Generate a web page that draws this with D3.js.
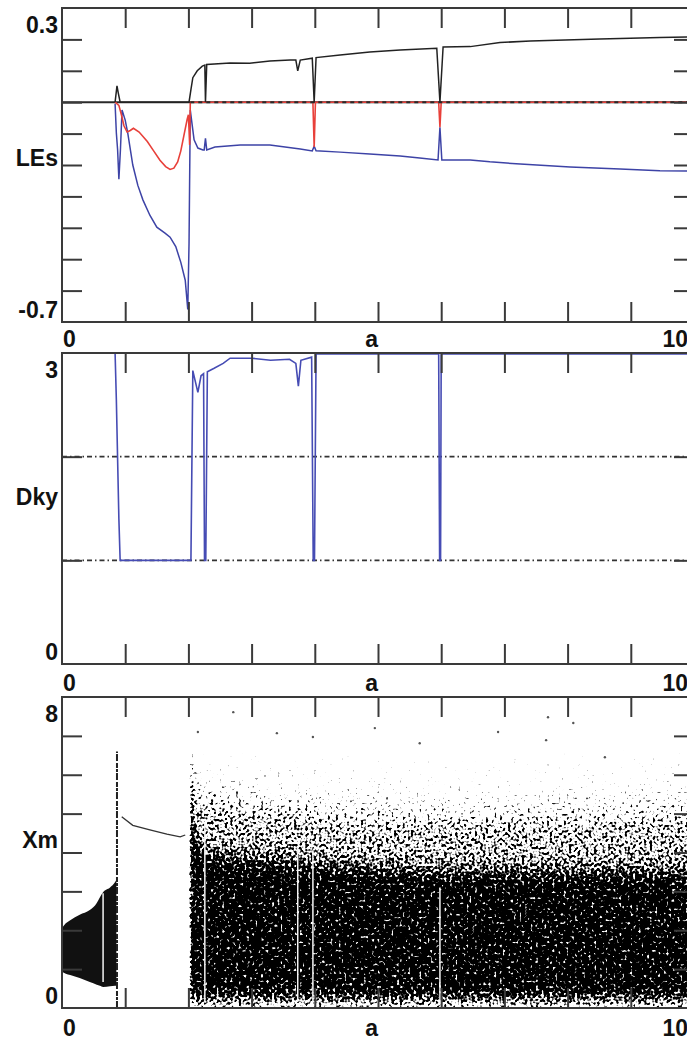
<!DOCTYPE html>
<html>
<head>
<meta charset="UTF-8">
<style>
body{
	margin: 0;
	background: #fff;
}
svg{
	display: block;
	font-family: "Liberation Sans", Arial, Helvetica, sans-serif;
}
.lbl{
	font-size: 23px;
	font-weight: bold;
	fill: #111;
}
.frame{
	fill: none;
	stroke: #3a3a3a;
	stroke-width: 2;
}
.axis path{
	display: none;
}
.axis line{
	stroke: #3a3a3a;
	stroke-width: 2;
}
</style>
<script src="https://cdn.jsdelivr.net/npm/d3@7"></script>
</head>
<body>
<script>
// ---- panel 1: Lyapunov exponents vs a ----
var le1A = [0.84, 0.87, 0.89, 0.92, 2.01, 2.04, 2.07, 2.14, 2.22, 2.26, 2.27, 2.29, 2.66, 2.97, 3.29, 3.61, 3.70, 3.73, 3.77, 3.96, 3.99, 4.02, 4.40, 4.87, 5.35, 5.93, 5.98, 6.03, 6.46, 6.93, 7.41, 7.96, 8.51, 8.99, 9.46, 10];
var le1V = [0, 0.052, 0.03, 0, 0, 0.04, 0.078, 0.10, 0.115, 0.118, 0, 0.12, 0.125, 0.124, 0.131, 0.134, 0.134, 0.10, 0.134, 0.14, 0, 0.142, 0.15, 0.16, 0.166, 0.172, 0, 0.176, 0.177, 0.19, 0.195, 0.198, 0.201, 0.204, 0.206, 0.208];

var le2A = [0.84, 0.90, 0.94, 0.98, 1.03, 1.08, 1.13, 1.22, 1.35, 1.45, 1.55, 1.64, 1.71, 1.77, 1.83, 1.88, 1.93, 1.98, 2.0, 2.02, 2.03, 3.97, 3.99, 4.01, 5.96, 5.98, 6.0, 10];
var le2V = [0, -0.01, -0.04, -0.075, -0.095, -0.09, -0.083, -0.095, -0.125, -0.155, -0.185, -0.205, -0.214, -0.21, -0.19, -0.155, -0.105, -0.055, -0.04, -0.136, 0, 0, -0.143, 0, 0, -0.08, 0, 0];

var le3A = [0.84, 0.86, 0.88, 0.90, 0.925, 0.95, 1.0, 1.04, 1.12, 1.20, 1.28, 1.39, 1.50, 1.63, 1.71, 1.80, 1.88, 1.95, 1.99, 2.01, 2.03, 2.06, 2.09, 2.15, 2.23, 2.25, 2.27, 2.29, 2.42, 2.82, 3.29, 3.77, 3.96, 3.99, 4.02, 4.40, 4.87, 5.35, 5.66, 5.95, 5.98, 6.01, 6.46, 6.77, 7.25, 8.04, 8.83, 9.46, 10];
var le3V = [-0.005, -0.098, -0.152, -0.245, -0.15, -0.025, -0.057, -0.098, -0.2, -0.265, -0.311, -0.36, -0.398, -0.417, -0.43, -0.46, -0.51, -0.567, -0.66, -0.45, -0.025, -0.073, -0.12, -0.146, -0.152, -0.152, -0.115, -0.152, -0.143, -0.136, -0.136, -0.149, -0.155, -0.14, -0.155, -0.159, -0.165, -0.171, -0.178, -0.184, -0.08, -0.184, -0.184, -0.19, -0.197, -0.206, -0.213, -0.218, -0.219];

// ---- panel 2: Kaplan-Yorke dimension ----
var dkyA = [0.84, 0.86, 0.90, 0.92, 2.04, 2.07, 2.10, 2.15, 2.20, 2.24, 2.255, 2.275, 2.30, 2.40, 2.55, 2.66, 3.0, 3.3, 3.6, 3.70, 3.74, 3.78, 3.95, 3.975, 3.995, 4.02, 5.96, 5.975, 5.99, 6.0, 10];
var dkyV = [3.0, 2.55, 1.4, 1.0, 1.0, 2.83, 2.75, 2.62, 2.78, 2.80, 1.0, 1.0, 2.82, 2.85, 2.9, 2.95, 2.95, 2.93, 2.94, 2.9, 2.68, 2.93, 2.96, 1.0, 1.0, 2.99, 2.99, 1.0, 1.0, 2.99, 2.99];
var dkyRef = [1, 2];

// ---- panel 3: maxima Xm (bifurcation cloud) ----
var bellA  = [0, 0.06, 0.13, 0.28, 0.44, 0.55, 0.60, 0.65, 0.76, 0.84, 0.86];
var bellLo = [0.93, 0.88, 0.85, 0.77, 0.67, 0.60, 0.57, 0.54, 0.56, 0.57, 0.57];
var bellHi = [2.06, 2.18, 2.26, 2.40, 2.52, 2.70, 2.85, 2.98, 3.10, 3.24, 3.30];
var spikeA = 0.87, spikeLo = 0.0, spikeHi = 6.6;

var p1A = [0.945, 1.12, 1.39, 1.66, 1.87, 1.95];
var p1X = [4.92, 4.70, 4.58, 4.47, 4.40, 4.45];

// chaotic cloud: bottom, top of dark core, top of grey part, start of sparse dots, top of dots
var chA     = [2.03, 2.07, 2.12, 2.2, 2.4, 2.7, 3.0, 3.5, 4.0, 5.0, 6.0, 7.0, 8.0, 9.0, 10.0];
var chLow   = [0.1, 0.1, 0.1, 0.1, 0.1, 0.1, 0.1, 0.1, 0.1, 0.1, 0.1, 0.1, 0.1, 0.1, 0.1];
var chDense = [6.0, 5.0, 4.4, 4.1, 3.95, 3.9, 3.85, 3.8, 3.7, 3.6, 3.5, 3.5, 3.5, 3.5, 3.5];
var chMid   = [6.4, 6.0, 5.6, 5.4, 5.3, 5.2, 5.15, 5.1, 5.0, 4.9, 4.85, 4.85, 4.9, 4.9, 4.95];
var chUp    = [6.6, 6.4, 6.1, 5.9, 5.8, 5.75, 5.7, 5.65, 5.6, 5.5, 5.45, 5.45, 5.5, 5.55, 5.6];
var chTop   = [6.9, 6.9, 6.8, 6.7, 6.65, 6.6, 6.6, 6.5, 6.5, 6.45, 6.4, 6.45, 6.5, 6.55, 6.6];

var outA = [2.15, 3.40, 2.71, 3.97, 5.66, 7.69, 8.09, 6.90, 7.66, 8.59, 4.95];
var outV = [7.10, 7.07, 7.61, 6.97, 6.81, 7.48, 7.33, 7.10, 6.89, 6.45, 7.20];

var winA   = [0.65, 2.26, 3.73, 3.97, 5.98];
var winLo  = [0.67, 0.15, 0.15, 0.15, 0.2];
var winTop = [2.95, 4.75, 4.14, 4.06, 3.1];

// tick values and labels
var xTicks = d3.range(1, 10);
var xLabels = ["0", "a", "10"];
var leTicks = [-0.6, -0.5, -0.4, -0.3, -0.2, -0.1, 0, 0.1, 0.2];
var leLabels = ["0.3", "-0.7"];
var dkyLabels = ["3", "0"];
var xmTicks = [1, 2, 3, 4, 5, 6, 7];
var xmLabels = ["8", "0"];

var width = 687, height = 1043;
var x = d3.scaleLinear().domain([0, 10]).range([62, 694]);

var svg = d3.select("body").append("svg")
	.attr("width", width)
	.attr("height", height);

// speckle texture: blurred density compared with a noise field
var defs = svg.append("defs");
var f = defs.append("filter")
	.attr("id", "speckle")
	.attr("filterUnits", "userSpaceOnUse")
	.attr("x", 62).attr("y", 697).attr("width", 632).attr("height", 311)
	.attr("color-interpolation-filters", "sRGB");
f.append("feGaussianBlur").attr("in", "SourceAlpha").attr("stdDeviation", "1 10").attr("result", "dens");
f.append("feTurbulence").attr("type", "fractalNoise").attr("baseFrequency", 0.36).attr("numOctaves", 1).attr("seed", 4).attr("result", "noise");
f.append("feColorMatrix").attr("in", "noise").attr("type", "matrix")
	.attr("values", "0 0 0 0 0  0 0 0 0 0  0 0 0 0 0  2.0 0 0 0 -0.5").attr("result", "n2");
f.append("feComposite").attr("in", "dens").attr("in2", "n2").attr("operator", "arithmetic")
	.attr("k1", 0).attr("k2", 4).attr("k3", -4).attr("k4", -0.15);

var panels = [
	{name: "LEs", top: 8, bottom: 322, domain: [-0.7, 0.3], ticks: leTicks, labels: leLabels, nameY: 166, xlabY: 347},
	{name: "Dky", top: 353, bottom: 664, domain: [0, 3], ticks: dkyRef, labels: dkyLabels, nameY: 505, xlabY: 691},
	{name: "Xm", top: 697, bottom: 1008, domain: [0, 8], ticks: xmTicks, labels: xmLabels, nameY: 848, xlabY: 1036}
];

panels.forEach(function(p){
	p.y = d3.scaleLinear().domain(p.domain).range([p.bottom, p.top]);
});

function drawFrame(p){
	svg.append("g").attr("class", "axis")
		.attr("transform", "translate(0," + p.bottom + ")")
		.call(d3.axisTop(x).tickValues(xTicks).tickSize(20).tickFormat(""));
	svg.append("g").attr("class", "axis")
		.attr("transform", "translate(0," + p.top + ")")
		.call(d3.axisBottom(x).tickValues(xTicks).tickSize(20).tickFormat(""));
	svg.append("g").attr("class", "axis")
		.attr("transform", "translate(" + x(0) + ",0)")
		.call(d3.axisRight(p.y).tickValues(p.ticks).tickSize(20).tickFormat(""));
	svg.append("g").attr("class", "axis")
		.attr("transform", "translate(" + x(10) + ",0)")
		.call(d3.axisLeft(p.y).tickValues(p.ticks).tickSize(20).tickFormat(""));
	svg.append("rect").attr("class", "frame")
		.attr("x", x(0)).attr("y", p.top)
		.attr("width", x(10) - x(0)).attr("height", p.bottom - p.top);

	svg.append("text").attr("class", "lbl").attr("text-anchor", "end")
		.attr("x", 58).attr("y", p.top + 25).text(p.labels[0]);
	svg.append("text").attr("class", "lbl").attr("text-anchor", "end")
		.attr("x", 58).attr("y", p.bottom - 4).text(p.labels[1]);
	svg.append("text").attr("class", "lbl").attr("text-anchor", "end")
		.attr("x", 58).attr("y", p.nameY).text(p.name);

	svg.append("text").attr("class", "lbl").attr("x", x(0) + 1).attr("y", p.xlabY).text(xLabels[0]);
	svg.append("text").attr("class", "lbl").attr("text-anchor", "middle").attr("x", x(4.9)).attr("y", p.xlabY).text(xLabels[1]);
	svg.append("text").attr("class", "lbl").attr("x", x(9.5)).attr("y", p.xlabY).text(xLabels[2]);
}

function seriesLine(xs, ys, yScale){
	return d3.line()
		.x(function(d, i){ return x(xs[i]); })
		.y(function(d, i){ return yScale(ys[i]); })(xs);
}

// panel 1
var p = panels[0];
svg.append("line")
	.attr("x1", x(0)).attr("x2", x(10))
	.attr("y1", p.y(0)).attr("y2", p.y(0))
	.attr("stroke", "#2a2a2a").attr("stroke-width", 2);
svg.append("path").attr("d", seriesLine(le3A, le3V, p.y))
	.attr("fill", "none").attr("stroke", "#3d43a6").attr("stroke-width", 1.5);
svg.append("path").attr("d", seriesLine(le2A, le2V, p.y))
	.attr("fill", "none").attr("stroke", "#e8403a").attr("stroke-width", 1.6);
svg.append("line")
	.attr("x1", x(2.03)).attr("x2", x(10))
	.attr("y1", p.y(0)).attr("y2", p.y(0))
	.attr("stroke", "#2a2a2a").attr("stroke-width", 2)
	.attr("stroke-dasharray", "4,4");
svg.append("path").attr("d", seriesLine(le1A, le1V, p.y))
	.attr("fill", "none").attr("stroke", "#222").attr("stroke-width", 1.5);
drawFrame(p);

// panel 2
p = panels[1];
svg.selectAll(".dkyref").data(dkyRef).enter().append("line")
	.attr("x1", x(0)).attr("x2", x(10))
	.attr("y1", function(d){ return p.y(d); }).attr("y2", function(d){ return p.y(d); })
	.attr("stroke", "#333").attr("stroke-width", 1.6)
	.attr("stroke-dasharray", "5,3,1.5,3");
svg.append("path").attr("d", seriesLine(dkyA, dkyV, p.y))
	.attr("fill", "none").attr("stroke", "#464cb4").attr("stroke-width", 1.6);
drawFrame(p);

// panel 3
p = panels[2];
var cloud = svg.append("g").attr("filter", "url(#speckle)");
function bandArea(xs, lo, hi){
	return d3.area()
		.x(function(d, i){ return x(xs[i]); })
		.y0(function(d, i){ return p.y(lo[i]); })
		.y1(function(d, i){ return p.y(hi[i]); })
		.curve(d3.curveMonotoneX)(xs);
}
cloud.append("path").attr("d", bandArea(chA, chLow, chDense)).attr("fill", "#000").attr("fill-opacity", 1);
cloud.append("path").attr("d", bandArea(chA, chDense, chMid)).attr("fill", "#000").attr("fill-opacity", 0.55);
cloud.append("path").attr("d", bandArea(chA, chMid, chUp)).attr("fill", "#000").attr("fill-opacity", 0.27);
cloud.append("path").attr("d", bandArea(chA, chUp, chTop)).attr("fill", "#000").attr("fill-opacity", 0.1);

svg.append("path").attr("d", bandArea(bellA, bellLo, bellHi)).attr("fill", "#111");

svg.append("line")
	.attr("x1", x(spikeA)).attr("x2", x(spikeA))
	.attr("y1", p.y(spikeLo)).attr("y2", p.y(spikeHi))
	.attr("stroke", "#222").attr("stroke-width", 2)
	.attr("stroke-dasharray", "7,1,3,1,5,2");

svg.selectAll(".win").data(winA).enter().append("line")
	.attr("x1", function(d){ return x(d); }).attr("x2", function(d){ return x(d); })
	.attr("y1", function(d, i){ return p.y(winLo[i]); })
	.attr("y2", function(d, i){ return p.y(winTop[i]); })
	.attr("stroke", "#f4f4f4").attr("stroke-width", 1.5);

svg.append("path").attr("d", seriesLine(p1A, p1X, p.y))
	.attr("fill", "none").attr("stroke", "#333").attr("stroke-width", 1.3);

svg.selectAll(".out").data(outA).enter().append("circle")
	.attr("cx", function(d){ return x(d); })
	.attr("cy", function(d, i){ return p.y(outV[i]); })
	.attr("r", 1.2).attr("fill", "#555");
drawFrame(p);
</script>
</body>
</html>
